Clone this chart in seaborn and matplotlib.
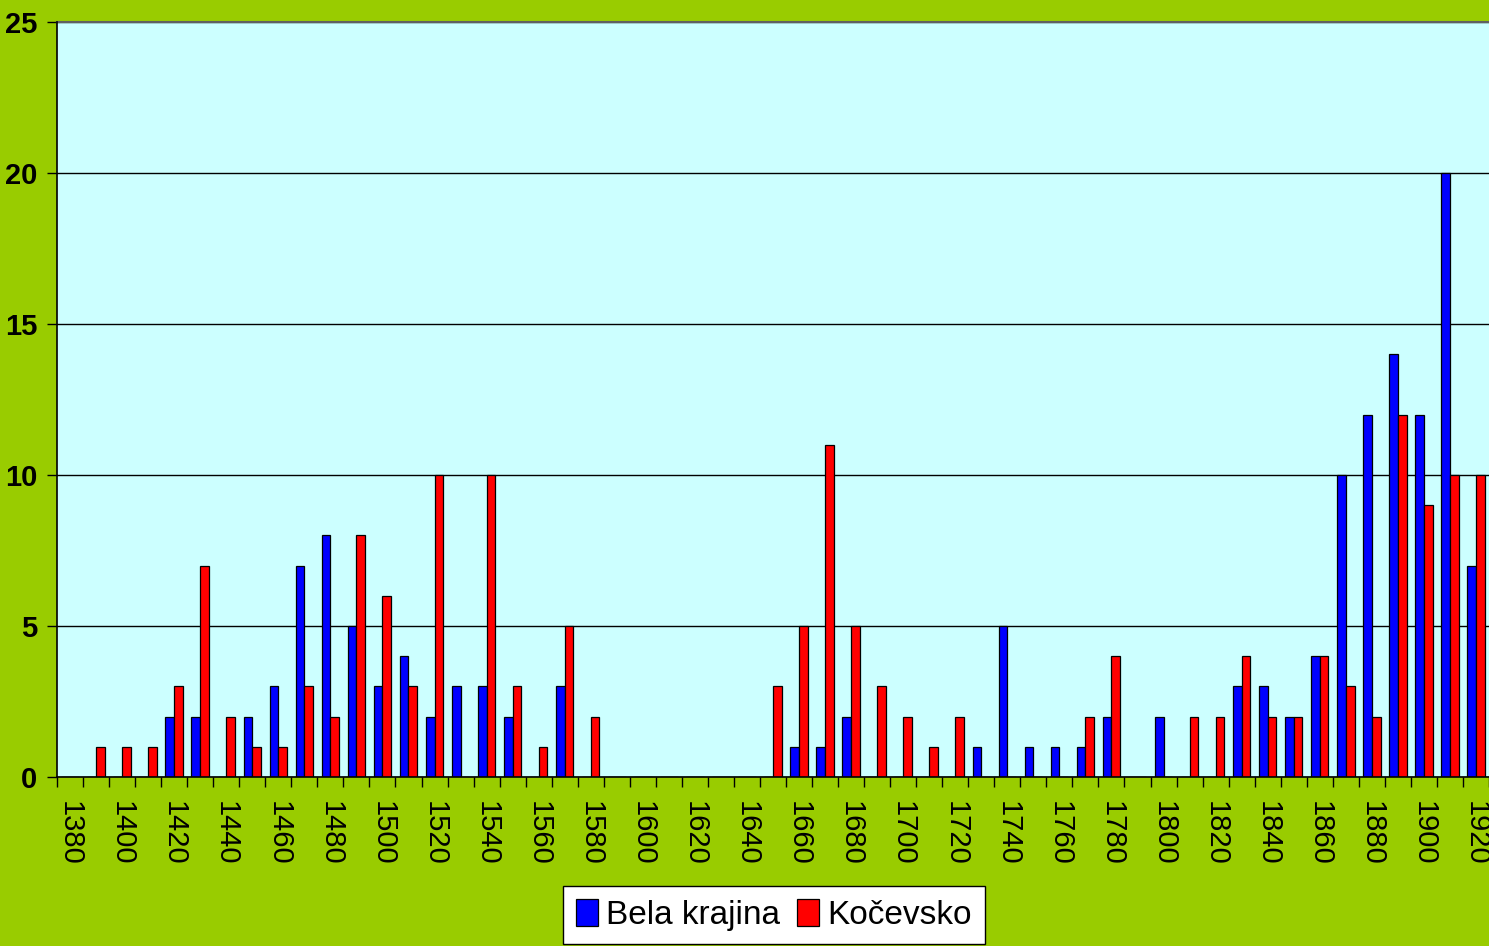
import numpy as np
import pandas as pd
import seaborn as sns
import matplotlib.pyplot as plt
from matplotlib import font_manager

# decades on the x axis, 1380 .. 1920
decades = list(range(1380, 1930, 10))

# counts per decade
bela_krajina = [0, 0, 0, 0, 2, 2, 0, 2, 3, 7,
                8, 5, 3, 4, 2, 3, 3, 2, 0, 3,
                0, 0, 0, 0, 0, 0, 0, 0, 1, 1,
                2, 0, 0, 0, 0, 1, 5, 1, 1, 1,
                2, 0, 2, 0, 0, 3, 3, 2, 4, 10,
                12, 14, 12, 20, 7]
kocevsko = [0, 1, 1, 1, 3, 7, 2, 1, 1, 3,
            2, 8, 6, 3, 10, 0, 10, 3, 1, 5,
            2, 0, 0, 0, 0, 0, 0, 3, 5, 11,
            5, 3, 2, 1, 2, 0, 0, 0, 0, 2,
            4, 0, 0, 2, 2, 4, 2, 2, 4, 3,
            2, 12, 9, 10, 10]

series_names = ["Bela krajina", "Kočevsko"]
series_colors = ["#0000FF", "#FF0000"]

# %%
available = {f.name for f in font_manager.fontManager.ttflist}
narrow = "Liberation Sans Narrow" if "Liberation Sans Narrow" in available else "Liberation Sans"

plt.rcParams['font.family'] = [narrow, 'DejaVu Sans']

df = pd.DataFrame({
    "decade": decades * 2,
    "count": bela_krajina + kocevsko,
    "region": [series_names[0]] * len(decades) + [series_names[1]] * len(decades),
})

fig = plt.figure(figsize=(14.89, 9.46), dpi=100, facecolor="#99CC00")
ax = fig.add_axes([57 / 1489, 1 - 777 / 946, 1 - 57 / 1489, (777 - 22) / 946])
ax.set_facecolor("#CCFFFF")

sns.barplot(data=df, x="decade", y="count", hue="region", palette=series_colors,
            saturation=1, width=0.67, gap=0, edgecolor="black", linewidth=0.9,
            ax=ax, zorder=3)

# y axis
ax.set_ylim(0, 25)
ax.set_yticks([0, 5, 10, 15, 20, 25])
ax.yaxis.grid(True, color="black", linewidth=1, zorder=1)
ax.set_axisbelow(True)
ax.tick_params(axis="y", length=7, width=1, color="black", pad=7, labelsize=21)
for lbl in ax.get_yticklabels():
    lbl.set_fontweight("bold")

# x axis: labels every 20 years, tick marks between categories
ax.set_xlim(-0.5, len(decades) - 0.5)
ax.set_xticks(range(0, len(decades), 2))
ax.set_xticklabels([str(d) for d in decades[::2]], rotation=-90, fontsize=21)
ax.set_xticks(np.arange(-0.5, len(decades), 1), minor=True)
ax.tick_params(axis="x", which="major", length=0, pad=17)
ax.tick_params(axis="x", which="minor", length=7, width=1, color="black")

ax.set_xlabel("")
ax.set_ylabel("")
for side in ["top", "right"]:
    ax.spines[side].set_visible(False)
for side in ["left", "bottom"]:
    ax.spines[side].set_color("black")
    ax.spines[side].set_linewidth(1.2)
    ax.spines[side].set_zorder(4)
ax.axhline(25, color="#606060", linewidth=1.5, zorder=2, clip_on=False)

handles, labels = ax.get_legend_handles_labels()
ax.legend_.remove()
leg = fig.legend(handles, labels, loc="center", bbox_to_anchor=(774 / 1489, 1 - 915 / 946),
                 ncol=2, fontsize=24, frameon=True, fancybox=False, edgecolor="black",
                 facecolor="white", framealpha=1, handlelength=0.65, handleheight=0.85,
                 handletextpad=0.25, columnspacing=0.5, borderpad=0.4, borderaxespad=0)
leg.get_frame().set_linewidth(1)

fig.savefig("out.png", dpi=100, facecolor=fig.get_facecolor())
